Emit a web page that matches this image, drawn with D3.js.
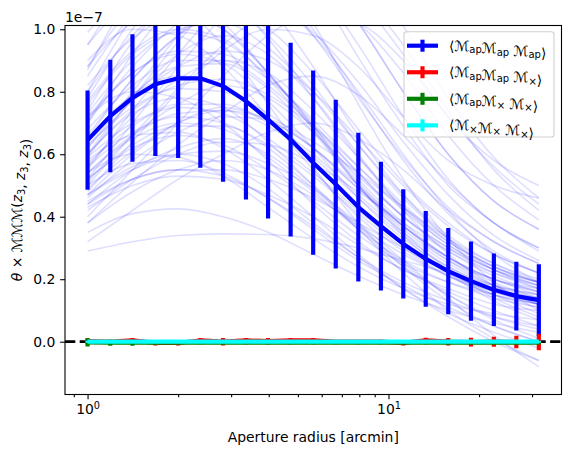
<!DOCTYPE html>
<html>
<head>
<meta charset="utf-8">
<script src="https://cdn.jsdelivr.net/npm/d3@7"></script>
<style>
  body { margin: 0; background: #fff; }
  svg { font-family: "DejaVu Sans", sans-serif; }
</style>
</head>
<body>
<svg id="chart" width="570" height="452"></svg>
<script>
// aperture radii (arcmin)
const radii = [1.0, 1.19, 1.41, 1.68, 2.0, 2.37, 2.82, 3.36, 3.98, 4.73, 5.62,
  6.68, 7.94, 9.44, 11.2, 13.3, 15.8, 18.8, 22.4, 26.6, 31.6];
const thinRadii = [1.0, 1.41, 2.0, 2.82, 3.98, 5.62, 7.94, 11.2, 15.8, 22.4, 31.6];

// values are in units of 1e-7
const apapapMean = [0.645, 0.722, 0.780, 0.824, 0.843, 0.843, 0.818, 0.770, 0.711, 0.647, 0.573,
  0.504, 0.431, 0.370, 0.313, 0.265, 0.226, 0.194, 0.166, 0.146, 0.133];
const apapapErr = [0.159, 0.180, 0.204, 0.230, 0.255, 0.286, 0.306, 0.315, 0.317, 0.310, 0.295,
  0.270, 0.238, 0.206, 0.175, 0.153, 0.138, 0.127, 0.116, 0.110, 0.115];

const apapxMean = [0.002, 0.0, 0.004, -0.004, -0.004, 0.004, 0.0, 0.004, 0.002, 0.004, 0.004,
  0.0, 0.0, 0.0, -0.004, 0.004, 0.0, -0.001, 0.0, -0.001, -0.001];
const apapxErr = [0.010, 0.005, 0.008, 0.008, 0.008, 0.008, 0.012, 0.008, 0.010, 0.008, 0.008,
  0.005, 0.005, 0.006, 0.008, 0.009, 0.012, 0.014, 0.016, 0.020, 0.026];

const apxxMean = [-0.002, -0.003, -0.003, -0.003, -0.003, -0.003, -0.003, -0.003, -0.003, -0.003, -0.003,
  -0.003, -0.003, -0.003, -0.003, -0.003, -0.003, -0.003, -0.003, -0.003, -0.003];
const apxxErr = [0.013, 0.010, 0.010, 0.006, 0.005, 0.005, 0.005, 0.005, 0.005, 0.005, 0.005,
  0.005, 0.005, 0.005, 0.005, 0.005, 0.005, 0.005, 0.005, 0.005, 0.005];

const xxxMean = [0, 0, 0, 0, 0, 0, 0, 0, 0, 0, 0, 0, 0, 0, 0, 0, 0, 0, 0, 0, 0];
const xxxErr = [0.003, 0.003, 0.003, 0.003, 0.003, 0.003, 0.003, 0.003, 0.003, 0.003, 0.003,
  0.003, 0.003, 0.003, 0.003, 0.003, 0.003, 0.003, 0.003, 0.003, 0.003];

// individual realisations (faint lines), sampled at thinRadii
const realisations = [
  [0.65,0.79,0.85,0.82,0.71,0.58,0.43,0.31,0.23,0.17,0.14],
  [0.77,0.93,1.00,0.97,0.84,0.68,0.51,0.37,0.27,0.20,0.16],
  [0.54,0.65,0.70,0.68,0.59,0.48,0.36,0.26,0.19,0.14,0.11],
  [0.47,0.56,0.60,0.57,0.49,0.38,0.27,0.17,0.09,0.03,-0.02],
  [0.88,1.07,1.15,1.11,0.97,0.78,0.59,0.43,0.31,0.23,0.18],
  [0.60,0.73,0.78,0.75,0.64,0.50,0.36,0.24,0.15,0.08,0.04],
  [0.71,0.86,0.92,0.89,0.77,0.62,0.46,0.33,0.24,0.18,0.15],
  [0.52,0.62,0.66,0.63,0.55,0.45,0.34,0.25,0.19,0.15,0.12],
  [0.44,0.52,0.55,0.53,0.46,0.37,0.27,0.19,0.13,0.08,0.05],
  [0.82,0.97,1.04,1.00,0.86,0.69,0.50,0.34,0.22,0.13,0.07],
  [0.56,0.72,0.84,0.90,0.86,0.74,0.59,0.44,0.32,0.24,0.19],
  [0.74,0.96,1.12,1.20,1.14,0.98,0.78,0.59,0.43,0.32,0.25],
  [0.47,0.60,0.70,0.75,0.71,0.62,0.49,0.37,0.27,0.20,0.16],
  [0.87,1.12,1.30,1.40,1.33,1.15,0.91,0.69,0.50,0.38,0.29],
  [0.44,0.55,0.62,0.65,0.60,0.49,0.36,0.22,0.10,0.01,-0.06],
  [0.65,0.84,0.98,1.05,1.00,0.86,0.68,0.51,0.38,0.28,0.22],
  [0.51,0.66,0.76,0.82,0.78,0.67,0.53,0.40,0.30,0.22,0.17],
  [0.80,1.04,1.21,1.30,1.22,1.02,0.76,0.52,0.33,0.19,0.10],
  [0.38,0.48,0.55,0.58,0.55,0.47,0.37,0.28,0.21,0.16,0.12],
  [0.60,0.78,0.92,0.98,0.92,0.78,0.60,0.42,0.28,0.18,0.12],
  [0.50,0.66,0.81,0.95,1.06,1.10,1.02,0.86,0.66,0.50,0.39],
  [0.38,0.51,0.63,0.73,0.82,0.85,0.79,0.66,0.51,0.38,0.30],
  [0.59,0.78,0.96,1.12,1.25,1.30,1.21,1.01,0.78,0.59,0.46],
  [0.32,0.42,0.52,0.60,0.67,0.70,0.65,0.55,0.42,0.32,0.25],
  [0.62,0.80,0.98,1.14,1.22,1.18,1.02,0.80,0.60,0.45,0.36],
  [0.70,0.92,1.10,1.22,1.25,1.15,0.95,0.72,0.52,0.38,0.30],
  [0.55,0.74,0.92,1.08,1.18,1.20,1.10,0.92,0.72,0.58,0.50],
  [0.48,0.64,0.80,0.93,1.00,0.98,0.88,0.72,0.58,0.50,0.46],
  [0.90,1.00,0.98,0.88,0.72,0.55,0.40,0.29,0.21,0.15,0.12],
  [0.72,0.80,0.78,0.70,0.58,0.44,0.32,0.23,0.17,0.12,0.10],
  [0.54,0.60,0.59,0.53,0.43,0.33,0.24,0.17,0.12,0.09,0.07],
  [0.99,1.10,1.07,0.95,0.76,0.56,0.38,0.24,0.13,0.05,0.00],
  [0.95,1.08,1.10,1.02,0.86,0.68,0.50,0.36,0.26,0.20,0.17],
  [0.58,0.66,0.67,0.62,0.52,0.40,0.28,0.17,0.08,0.00,-0.06],
  [0.50,0.57,0.58,0.54,0.46,0.36,0.26,0.18,0.11,0.05,0.00],
  [0.29,0.32,0.34,0.345,0.343,0.33,0.30,0.26,0.22,0.18,0.15],
  [0.35,0.41,0.425,0.40,0.35,0.28,0.21,0.15,0.10,0.06,0.03],
  [0.43,0.50,0.53,0.52,0.47,0.40,0.31,0.23,0.16,0.10,0.05],
  [0.45,0.52,0.55,0.55,0.52,0.46,0.38,0.30,0.22,0.15,0.09],
  [0.47,0.55,0.60,0.61,0.57,0.49,0.38,0.26,0.14,0.02,-0.08],
  [0.63,0.75,0.81,0.80,0.73,0.62,0.49,0.37,0.27,0.20,0.15],
  [0.68,0.82,0.90,0.90,0.82,0.69,0.54,0.40,0.29,0.21,0.16],
  [0.57,0.69,0.76,0.76,0.70,0.60,0.47,0.35,0.25,0.18,0.14],
  [0.73,0.90,1.00,1.02,0.94,0.80,0.63,0.47,0.34,0.25,0.19],
  [0.52,0.63,0.69,0.69,0.63,0.53,0.41,0.30,0.21,0.15,0.11],
  [0.80,0.98,1.08,1.08,0.98,0.82,0.63,0.46,0.33,0.24,0.19],
  [0.62,0.77,0.88,0.93,0.90,0.80,0.65,0.50,0.37,0.28,0.22],
  [0.49,0.61,0.70,0.74,0.71,0.62,0.50,0.37,0.26,0.18,0.12],
  [0.66,0.84,0.98,1.07,1.08,0.99,0.83,0.64,0.47,0.34,0.26],
  [0.59,0.70,0.75,0.73,0.65,0.54,0.42,0.31,0.22,0.16,0.12],
  [0.76,0.92,0.99,0.96,0.85,0.70,0.54,0.40,0.30,0.23,0.19],
  [0.46,0.58,0.67,0.72,0.71,0.64,0.54,0.43,0.33,0.25,0.20],
  [0.70,0.88,1.02,1.10,1.09,0.98,0.80,0.60,0.42,0.28,0.19],
  [0.54,0.66,0.73,0.74,0.69,0.59,0.46,0.34,0.24,0.17,0.13],
  [0.85,1.05,1.18,1.22,1.16,1.00,0.79,0.58,0.41,0.29,0.22],
  [0.64,0.79,0.88,0.89,0.81,0.67,0.50,0.35,0.23,0.14,0.08],
  [0.42,0.52,0.60,0.64,0.63,0.57,0.48,0.38,0.29,0.22,0.18],
  [0.95,1.15,1.25,1.22,1.08,0.88,0.66,0.47,0.33,0.23,0.17],
  [0.72,0.86,0.93,0.92,0.84,0.71,0.56,0.42,0.31,0.23,0.18],
  [0.60,0.74,0.82,0.84,0.79,0.69,0.56,0.43,0.32,0.24,0.19],
  [0.40,0.55,0.70,0.85,0.98,1.05,1.02,0.90,0.72,0.56,0.44],
  [0.78,1.00,1.18,1.30,1.32,1.22,1.02,0.80,0.60,0.45,0.36],
  [0.52,0.70,0.88,1.04,1.16,1.20,1.12,0.95,0.74,0.55,0.42],
  [0.88,1.02,1.06,1.00,0.86,0.69,0.52,0.38,0.27,0.19,0.14],
  [0.56,0.67,0.72,0.70,0.62,0.50,0.37,0.25,0.15,0.07,0.01]
];

const xTicks = [1, 10];
const xMinorTicks = [0.9, 2, 3, 4, 5, 6, 7, 8, 9, 20, 30];
const yTicks = [0.0, 0.2, 0.4, 0.6, 0.8, 1.0];

// legend labels: [text, kind] pieces, kind 'n' normal, 's' subscript
const legendLabels = [
  [["⟨ℳ", "n"], ["ap", "s"], ["ℳ", "n"], ["ap", "s"], [" ℳ", "n"], ["ap", "s"], ["⟩", "n"]],
  [["⟨ℳ", "n"], ["ap", "s"], ["ℳ", "n"], ["ap", "s"], [" ℳ", "n"], ["×", "s"], ["⟩", "n"]],
  [["⟨ℳ", "n"], ["ap", "s"], ["ℳ", "n"], ["×", "s"], [" ℳ", "n"], ["×", "s"], ["⟩", "n"]],
  [["⟨ℳ", "n"], ["×", "s"], ["ℳ", "n"], ["×", "s"], [" ℳ", "n"], ["×", "s"], ["⟩", "n"]]
];

const svg = d3.select('#chart');
const pL = 65, pR = 561.5, pT = 25.5, pB = 394.5;
const fs = 13.9;

const x = d3.scaleLog().domain([Math.pow(10, -0.075), Math.pow(10, 1.575)]).range([pL, pR]);
const y = d3.scaleLinear().domain([-0.169, 1.012]).range([pB, pT]);

svg.append('clipPath').attr('id', 'clip')
  .append('rect').attr('x', pL).attr('y', pT).attr('width', pR - pL).attr('height', pB - pT);

const plot = svg.append('g').attr('clip-path', 'url(#clip)');

// zero line
plot.append('line')
  .attr('x1', pL).attr('x2', pR)
  .attr('y1', y(0)).attr('y2', y(0))
  .attr('stroke', 'black').attr('stroke-width', 2.78)
  .attr('stroke-dasharray', '10.3,4.4');

// faint realisations
const thinLine = d3.line()
  .x((d, i) => x(thinRadii[i]))
  .y(d => y(d))
  .curve(d3.curveMonotoneX);

plot.selectAll('path.thin')
  .data(realisations)
  .enter().append('path')
  .attr('class', 'thin')
  .attr('d', thinLine)
  .attr('fill', 'none')
  .attr('stroke', 'blue')
  .attr('stroke-opacity', 0.13)
  .attr('stroke-width', 1.6);

const series = [
  { mean: apapapMean, err: apapapErr, color: 'blue' },
  { mean: apapxMean, err: apapxErr, color: 'red' },
  { mean: apxxMean, err: apxxErr, color: 'green' },
  { mean: xxxMean, err: xxxErr, color: 'cyan' }
];

const meanLine = d3.line()
  .x((d, i) => x(radii[i]))
  .y(d => y(d));

series.forEach(function(s) {
  const g = plot.append('g');
  g.append('path')
    .attr('d', meanLine(s.mean))
    .attr('fill', 'none')
    .attr('stroke', s.color)
    .attr('stroke-width', 4.17)
    .attr('stroke-linejoin', 'round');
  g.selectAll('line')
    .data(s.mean)
    .enter().append('line')
    .attr('x1', (d, i) => x(radii[i]))
    .attr('x2', (d, i) => x(radii[i]))
    .attr('y1', (d, i) => y(d - s.err[i]))
    .attr('y2', (d, i) => y(d + s.err[i]))
    .attr('stroke', s.color)
    .attr('stroke-width', 4.17);
});

// axes
const xAxis = svg.append('g')
  .attr('transform', `translate(0,${pB})`)
  .call(d3.axisBottom(x).tickValues(xTicks).tickSize(4.86).tickPadding(4.86).tickFormat(() => ''));
xAxis.selectAll('text').each(function(d) {
  const t = d3.select(this);
  t.text('10');
  t.append('tspan').attr('dy', -5.5).attr('font-size', fs * 0.7).text(Math.round(Math.log10(d)));
});

svg.append('g')
  .attr('transform', `translate(0,${pB})`)
  .call(d3.axisBottom(x).tickValues(xMinorTicks).tickSize(2.78).tickFormat(() => ''))
  .call(g => g.select('.domain').remove());

svg.append('g')
  .attr('transform', `translate(${pL},0)`)
  .call(d3.axisLeft(y).tickValues(yTicks).tickSize(4.86).tickPadding(4.86).tickFormat(d3.format('.1f')));

svg.selectAll('.tick text').attr('font-size', fs).attr('fill', 'black').attr('font-family', 'DejaVu Sans');
svg.selectAll('.tick line').attr('stroke-width', 1.1);
svg.selectAll('.domain').remove();

// frame
svg.append('rect')
  .attr('x', pL).attr('y', pT).attr('width', pR - pL).attr('height', pB - pT)
  .attr('fill', 'none').attr('stroke', 'black').attr('stroke-width', 1.1);

// offset text
svg.append('text').attr('x', pL).attr('y', 21.5).attr('font-size', fs).text('1e−7');

// axis labels
svg.append('text')
  .attr('x', (pL + pR) / 2).attr('y', 441.5)
  .attr('text-anchor', 'middle').attr('font-size', fs)
  .text('Aperture radius [arcmin]');

const ylab = svg.append('text')
  .attr('transform', `translate(22,${(pT + pB) / 2}) rotate(-90)`)
  .attr('text-anchor', 'middle').attr('font-size', fs);
ylab.append('tspan').attr('font-style', 'italic').text('θ');
ylab.append('tspan').text(' × ℳℳℳ(');
['', ', ', ', '].forEach(function(sep) {
  if (sep) ylab.append('tspan').text(sep);
  ylab.append('tspan').attr('font-style', 'italic').text('z');
  ylab.append('tspan').attr('font-size', fs * 0.7).attr('dy', 3).text('3');
  ylab.append('tspan').attr('dy', -3).text('');
});
ylab.append('tspan').text(')');

// legend
const lg = svg.append('g');
lg.append('rect')
  .attr('x', 404).attr('y', 31.7).attr('width', 150).attr('height', 105.3)
  .attr('rx', 2.8).attr('fill', 'white').attr('fill-opacity', 0.8)
  .attr('stroke', '#d0d0d0').attr('stroke-width', 1.1);

series.forEach(function(s, i) {
  const cy = 45.7 + i * 26.55;
  lg.append('line').attr('x1', 407).attr('x2', 438).attr('y1', cy).attr('y2', cy)
    .attr('stroke', s.color).attr('stroke-width', 4.17);
  lg.append('line').attr('x1', 422.5).attr('x2', 422.5).attr('y1', cy - 6).attr('y2', cy + 6)
    .attr('stroke', s.color).attr('stroke-width', 4.17);
  const t = lg.append('text').attr('x', 449).attr('y', cy + 5).attr('font-size', fs);
  legendLabels[i].forEach(function(p) {
    if (p[1] === 's') {
      t.append('tspan').attr('font-size', fs * 0.72).attr('dy', 2.5).text(p[0]);
      t.append('tspan').attr('dy', -2.5).text('');
    } else {
      t.append('tspan').text(p[0]);
    }
  });
});
</script>
</body>
</html>
